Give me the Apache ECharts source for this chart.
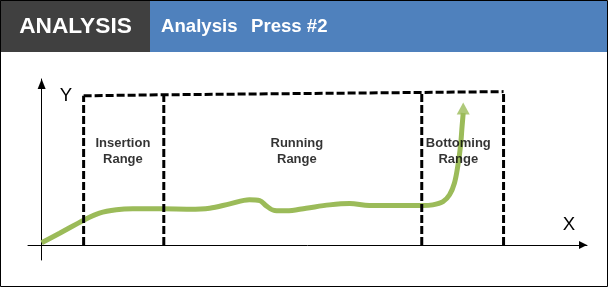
<!DOCTYPE html>
<html><head><meta charset="utf-8">
<script src="https://cdn.jsdelivr.net/npm/echarts@6/dist/echarts.min.js"></script>
<style>html,body{margin:0;padding:0;background:#fff}#c{width:609px;height:288px}</style>
</head><body><div id="c"></div>
<script>
// ---- data ----
const headerTitle = 'ANALYSIS';
const headerSubtitle = ['Analysis', 'Press #2'];
const axisNames = ['X', 'Y'];
const rangeLabels = ['Insertion\nRange', 'Running\nRange', 'Bottoming\nRange'];
const rangeBounds = [7.7, 22.4, 69.7, 84.7];
const rangeTops = [89.9, 90.5, 91.9, 92.4];
const rangeLabelX = [14.9, 46.8, 76.4];
const rangeLabelY = 56.3;
const curveX = [0, 3.3, 7.8, 10.6, 13.7, 16.7, 22.2, 27.1, 30.8, 34.5, 38.1, 40.0, 41.2, 42.7, 44.9, 48.5, 52.8, 56.5, 60.1, 63.8, 69.9, 71.7, 73.6, 74.8, 75.7, 76.3, 76.8, 77.1, 77.3];
const curveY = [1.4, 7.1, 15.1, 19.2, 21.2, 21.8, 21.8, 21.6, 22.2, 24.8, 27.3, 26.8, 23.6, 20.8, 20.6, 22.2, 24.2, 25.0, 23.8, 23.8, 23.8, 24.2, 26.2, 30.3, 37.4, 47.4, 59.5, 71.7, 79.5];
const arrowHead = [77.3, 82.3];

// ---- chart ----
const chart = echarts.init(document.getElementById('c'), null, {renderer: 'canvas'});
const FONT = '"Liberation Sans", Arial, sans-serif';
const dash = {type: [8, 3], width: 3, color: '#000', cap: 'butt'};
const axisCommon = {
  type: 'value',
  axisTick: {show: false}, axisLabel: {show: false}, splitLine: {show: false}
};
const series = [
  {
    type: 'line', data: curveX.map((x, i) => [x, curveY[i]]), smooth: 0.35,
    symbol: 'none', lineStyle: {color: '#9BBB59', width: 5, cap: 'butt'}, silent: true
  },
  {
    type: 'scatter', data: [arrowHead], symbol: 'triangle', symbolSize: [13, 12],
    itemStyle: {color: '#9BBB59'}, silent: true
  },
  {
    type: 'line', data: rangeBounds.map((b, i) => [b, rangeTops[i]]),
    symbol: 'none', lineStyle: dash, silent: true
  }
].concat(rangeBounds.map((b, i) => ({
  type: 'line', data: [[b, 0], [b, rangeTops[i]]], symbol: 'none', lineStyle: dash, silent: true
}))).concat([{
  type: 'scatter', symbolSize: 1, itemStyle: {color: 'rgba(0,0,0,0)'}, silent: true,
  data: rangeLabels.map((t, i) => ({name: t, value: [rangeLabelX[i], rangeLabelY]})),
  label: {
    show: true, position: 'inside', formatter: p => p.name,
    color: '#000', fontFamily: FONT, fontWeight: 'bold', fontSize: 13, lineHeight: 16, align: 'center'
  },
  z: 5
}]);

chart.setOption({
  animation: false,
  backgroundColor: '#fff',
  grid: {left: 28, right: 22, top: 79, bottom: 28, containLabel: false},
  xAxis: Object.assign({}, axisCommon, {
    min: -2.5, max: 100,
    axisLine: {onZero: true, symbol: ['none', 'triangle'], symbolSize: [8, 8], symbolOffset: [0, -4],
      lineStyle: {color: '#000', width: 1}}
  }),
  yAxis: Object.assign({}, axisCommon, {
    min: -9, max: 100,
    axisLine: {onZero: true, symbol: ['none', 'triangle'], symbolSize: [8, 10], symbolOffset: [0, -5],
      lineStyle: {color: '#000', width: 1}}
  }),
  series: series,
  graphic: [
    {type: 'rect', shape: {x: 0, y: 0, width: 150, height: 52}, style: {fill: '#404040'}, silent: true},
    {type: 'rect', shape: {x: 150, y: 0, width: 457, height: 52}, style: {fill: '#4F81BD'}, silent: true},
    {type: 'rect', shape: {x: 0.5, y: 0.5, width: 607, height: 286}, style: {fill: 'none', stroke: '#000', lineWidth: 1}, silent: true},
    {type: 'text', x: 75.5, y: 26.5, style: {text: headerTitle, fill: '#fff', font: 'bold 22.7px ' + FONT, align: 'center', verticalAlign: 'middle'}},
    {type: 'text', x: 161, y: 27, style: {text: headerSubtitle[0], fill: '#fff', font: 'bold 18.6px ' + FONT, align: 'left', verticalAlign: 'middle'}},
    {type: 'text', x: 251, y: 27, style: {text: headerSubtitle[1], fill: '#fff', font: 'bold 18.6px ' + FONT, align: 'left', verticalAlign: 'middle'}},
    {type: 'text', x: 569, y: 225, style: {text: axisNames[0], fill: '#000', font: '18.6px ' + FONT, align: 'center', verticalAlign: 'middle'}},
    {type: 'text', x: 66, y: 95.5, style: {text: axisNames[1], fill: '#000', font: '18.6px ' + FONT, align: 'center', verticalAlign: 'middle'}}
  ]
});
</script>
</body></html>
